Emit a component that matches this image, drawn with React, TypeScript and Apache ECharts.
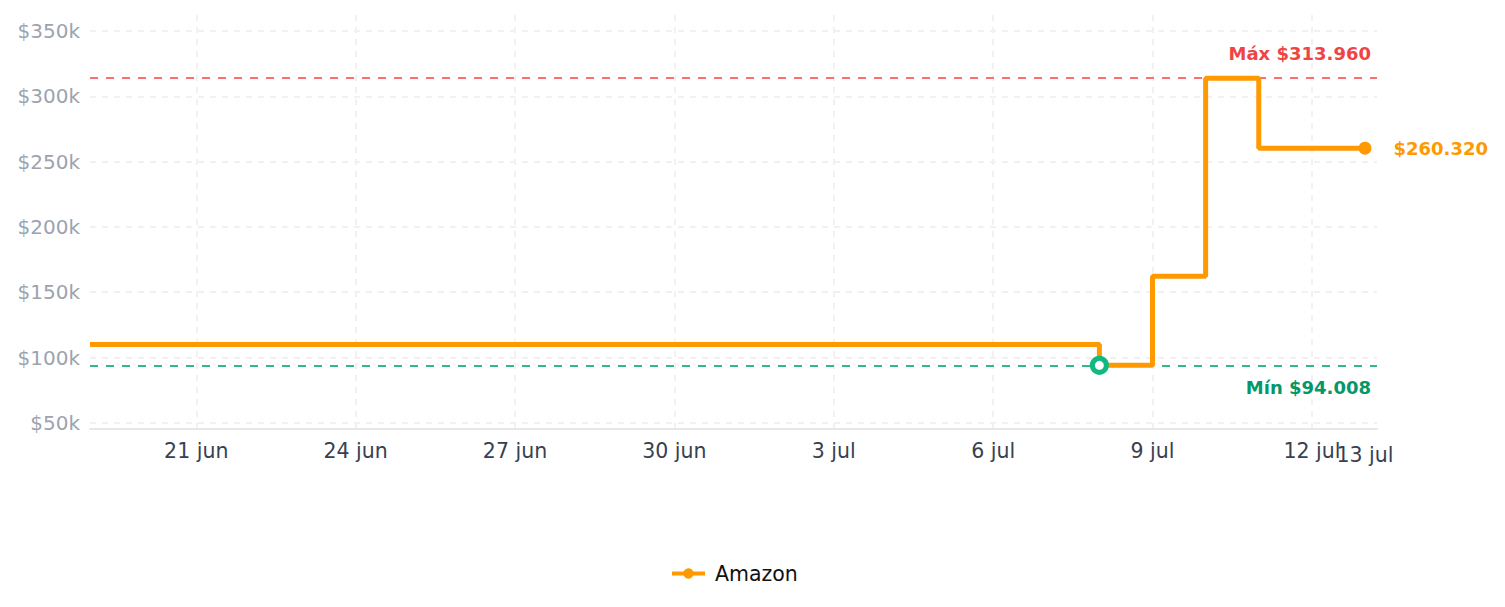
import React, { useEffect, useRef } from "react";
import * as echarts from "echarts";

const d = (m: number, day: number, h = 0, min = 0) => Date.UTC(2025, m - 1, day, h, min);

const seriesName = "Amazon";
const dates = [d(6, 19), d(7, 8), d(7, 9), d(7, 10), d(7, 11), d(7, 13)];
const prices = [110000, 94008, 162300, 313960, 260320, 260320];
const tickDates = [d(6, 21), d(6, 24), d(6, 27), d(6, 30), d(7, 3), d(7, 6), d(7, 9), d(7, 12)];
const lastLabelDates = [d(7, 13)];
const xMin = d(6, 19);
const xMax = d(7, 13, 5, 25);
const monthNames = ["ene", "feb", "mar", "abr", "may", "jun", "jul", "ago", "sep", "oct", "nov", "dic"];

const fmtMoney = (v: number) => "$" + Math.round(v).toString().replace(/\B(?=(\d{3})+(?!\d))/g, ".");
const fmtDate = (v: number) => {
  const dt = new Date(v);
  return `${dt.getUTCDate()} ${monthNames[dt.getUTCMonth()]}`;
};

export default function App() {
  const ref = useRef<HTMLDivElement>(null);
  useEffect(() => {
    if (!ref.current) return;
    const chart = echarts.init(ref.current, undefined, { renderer: "svg" });
    const maxV = Math.max(...prices);
    const minV = Math.min(...prices);
    const range = maxV - minV;
    const minIdx = prices.indexOf(minV);
    const lastIdx = prices.length - 1;
    const font = "DejaVu Sans";
    chart.setOption({
      animation: false,
      textStyle: { fontFamily: font },
      grid: { left: 90, right: 128, top: 15, bottom: 178.5 },
      legend: {
        bottom: 18,
        left: 665,
        itemWidth: 33,
        itemHeight: 13,
        lineStyle: { width: 4 },
        textStyle: { fontSize: 20.5, color: "#111", fontFamily: font, padding: [0, 0, 0, 5] },
        data: [seriesName],
      },
      xAxis: [
        {
          type: "value",
          min: xMin,
          max: xMax,
          axisLine: { show: true, lineStyle: { color: "#e5e7eb", width: 2 } },
          axisTick: { show: false, customValues: tickDates },
          splitLine: { show: true, lineStyle: { color: "#f1f1f3", type: [6, 6], width: 2 } },
          axisLabel: {
            customValues: tickDates,
            hideOverlap: false,
            fontSize: 20.5,
            color: "#374151",
            margin: 12,
            fontFamily: font,
            formatter: fmtDate,
          },
        },
        {
          type: "value",
          position: "bottom",
          min: xMin,
          max: xMax,
          axisLine: { show: false },
          axisTick: { show: false, customValues: lastLabelDates },
          splitLine: { show: false },
          axisLabel: {
            customValues: lastLabelDates,
            showMinLabel: true,
            showMaxLabel: true,
            hideOverlap: false,
            fontSize: 20.5,
            color: "#374151",
            margin: 16,
            fontFamily: font,
            formatter: fmtDate,
          },
        },
      ],
      yAxis: {
        type: "value",
        min: minV - range * 0.22,
        max: maxV + range * 0.22,
        axisLine: { show: false },
        axisTick: { show: false },
        splitLine: { show: true, showMaxLine: false, lineStyle: { color: "#f1f1f3", type: [6, 6], width: 2 } },
        axisLabel: {
          showMinLabel: false,
          showMaxLabel: false,
          fontSize: 20,
          color: "#9ca3af",
          margin: 10,
          fontFamily: font,
          formatter: (v: number) => `$${Math.round(v / 1000)}k`,
        },
      },
      series: [
        {
          name: seriesName,
          type: "line",
          step: "end",
          z: 3,
          xAxisIndex: 0,
          data: dates.map((t, i) => [t, prices[i]]),
          symbol: "circle",
          symbolSize: 12,
          showSymbol: false,
          color: "#ff9900",
          lineStyle: { color: "#ff9900", width: 5 },
          markLine: {
            silent: true,
            symbol: "none",
            z: 1,
            data: [
              {
                yAxis: maxV,
                lineStyle: { color: "#f87171", type: [8, 8], width: 2 },
                label: {
                  show: true,
                  position: "insideEndTop",
                  distance: [6, 16],
                  formatter: `Máx ${fmtMoney(maxV)}`,
                  color: "#ef4444",
                  fontWeight: "bold",
                  fontSize: 18,
                  fontFamily: font,
                },
              },
              {
                yAxis: minV,
                lineStyle: { color: "#34b58a", type: [8, 8], width: 2 },
                label: {
                  show: true,
                  position: "insideEndBottom",
                  distance: [6, 13],
                  formatter: `Mín ${fmtMoney(minV)}`,
                  color: "#059669",
                  fontWeight: "bold",
                  fontSize: 18,
                  fontFamily: font,
                },
              },
            ],
          },
          markPoint: {
            silent: true,
            z: 5,
            data: [
              {
                coord: [dates[minIdx], prices[minIdx]],
                symbol: "circle",
                symbolSize: 14,
                itemStyle: { color: "#ffffff", borderColor: "#10b981", borderWidth: 5 },
                label: { show: false },
              },
              {
                coord: [dates[lastIdx], prices[lastIdx]],
                symbol: "circle",
                symbolSize: 13,
                itemStyle: { color: "#ff9900" },
                label: {
                  show: true,
                  position: "right",
                  distance: 22,
                  formatter: fmtMoney(prices[lastIdx]),
                  color: "#ff9900",
                  fontWeight: "bold",
                  fontSize: 18,
                  fontFamily: font,
                },
              },
            ],
          },
        },
      ],
    });
    return () => chart.dispose();
  }, []);
  return <div ref={ref} style={{ width: 1505, height: 607, margin: -8 }} />;
}
